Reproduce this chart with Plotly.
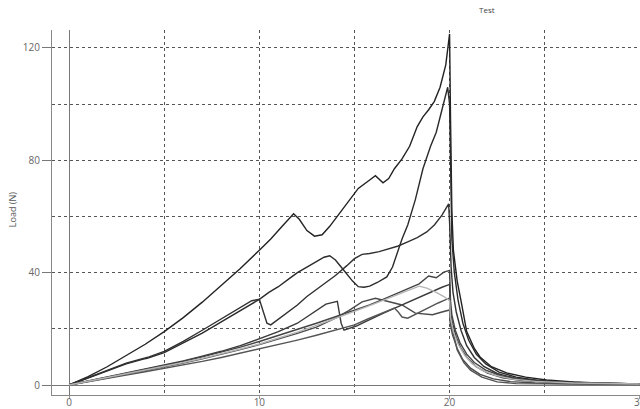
import plotly.graph_objects as go

# ---- data ----
a_x = [0, 1, 2, 2.8, 3.0, 4, 5, 6, 7, 8, 9, 10, 10.6, 11.2, 11.8, 12.1, 12.5, 12.9, 13.3, 13.7, 14.2, 14.8, 15.2, 15.8, 16.1, 16.5, 16.8, 17.1, 17.5, 17.9, 18.3, 18.6, 18.9, 19.2, 19.5, 19.8, 20.0,
       20.05, 20.12, 20.2, 20.4, 20.6, 20.9, 21.3, 21.6, 22.2, 23, 24, 25.1, 26.5, 27.8, 30]
a_y = [0, 3, 6.5, 9.8, 10.5, 14.5, 19, 24, 29.5, 35.5, 41.5, 48, 52, 56.5, 61, 59, 55, 53, 53.5, 56.5, 61, 66, 70, 73, 74.5, 72, 73.5, 77, 80.5, 85, 92, 95.5, 98, 101, 106, 114, 125,
       95, 62, 48, 37, 30, 19, 13, 10, 6.5, 4.3, 2.8, 1.8, 1.1, 0.7, 0.4]

b_x = [0, 1, 2, 3, 3.9, 4.1, 5, 6, 7, 8, 9, 10, 10.5, 11, 11.5, 12, 12.5, 13, 13.4, 13.7, 14.0, 14.3, 14.6, 14.9, 15.2, 15.5, 15.8, 16.2, 16.7, 17.0, 17.5, 17.8, 18.2, 18.6, 19.0, 19.3, 19.6, 19.9,
       20.0, 20.05, 20.12, 20.25, 20.45, 20.7, 21, 21.4, 21.9, 22.6, 23.5, 24.6, 26, 28, 30]
b_y = [0, 2.5, 5, 7.5, 9.2, 9.5, 11.5, 15, 18.5, 22.5, 26.5, 30.5, 33, 35, 37.5, 40, 42, 44, 45.5, 46, 44.5, 42, 39.5, 37, 35, 34.8, 35.2, 36.5, 38.5, 42, 52, 57, 66, 77, 85, 90, 98, 106,
       100, 75, 52, 40, 30, 22, 16, 11, 7.5, 4.6, 2.8, 1.7, 1, 0.6, 0.35]

c_x = [0, 1, 2, 3, 3.9, 4.2, 5, 6, 7, 8, 9, 9.6, 10.0, 10.2, 10.4, 10.6, 11, 11.5, 12, 12.5, 13, 13.5, 14, 14.6, 15, 15.4, 15.8, 16.3, 16.8, 17.3, 17.8, 18.3, 18.8, 19.2, 19.6, 19.95,
       20.0, 20.08, 20.18, 20.35, 20.6, 20.9, 21.3, 21.8, 22.5, 23.4, 24.5, 26, 28, 30]
c_y = [0, 2.6, 5.2, 7.8, 9.5, 10, 12, 15.5, 19.5, 23.5, 27.5, 30, 30.5, 26, 22, 21.4, 23.5, 26, 28.5, 31.5, 34, 36.5, 39, 42.5, 45, 46.5, 46.8, 47.5, 48.5, 49.5, 51, 52.5, 54.5, 57, 60.5, 64.5,
       58, 42, 33, 26, 19.5, 14, 9.8, 6.6, 4.1, 2.5, 1.5, 0.9, 0.5, 0.3]

d_x = [0, 1, 2, 3, 4, 5, 6, 7, 8, 9, 10, 11, 12, 13, 13.5, 14.1, 14.3, 14.45, 14.7, 15.1, 15.5, 16, 16.5, 17, 17.5, 18, 18.6, 19.2, 19.6, 20.0,
       20.05, 20.15, 20.35, 20.6, 20.95, 21.4, 22, 22.8, 23.8, 25.2, 27, 30]
d_y = [0, 1.4, 2.8, 4.2, 5.6, 7, 8.6, 10.3, 12, 14, 16.5, 19, 22, 26.5, 28.8, 29.8, 22, 19.5, 20, 21, 22.3, 24, 25.5, 27, 28.5, 30, 32, 33.8, 34.8, 35.8,
       26, 22, 17, 13, 9.5, 6.5, 4.2, 2.6, 1.6, 1.0, 0.6, 0.3]

e_x = [0, 1, 2, 3, 4, 5, 6, 7, 8, 9, 10, 11, 12, 13, 14, 15, 15.8, 16.5, 17.2, 17.8, 18.4, 18.9, 19.3, 19.7, 20.0,
       20.05, 20.12, 20.3, 20.55, 20.9, 21.3, 21.9, 22.7, 23.8, 25.3, 27.5, 30]
e_y = [0, 1.3, 2.7, 4.1, 5.5, 6.9, 8.4, 10, 11.7, 13.5, 15.5, 17.6, 19.8, 22, 24.3, 26.5, 28.5, 30.5, 32.5, 34.5, 36, 38.8, 38.2, 40.2, 40.8,
       30, 25, 19.5, 15, 11, 8, 5.3, 3.3, 2, 1.2, 0.7, 0.4]

f_x = [0, 1, 2, 3, 4, 5, 6, 7, 8, 9, 10, 11, 12, 13, 14, 14.7, 15.4, 16.1, 16.8, 17.5, 18.2, 18.6, 19.1, 19.6, 20.0,
       20.03, 20.15, 20.4, 20.7, 21.1, 21.6, 22.3, 23.2, 24.5, 26.5, 30]
f_y = [0, 1.2, 2.5, 3.8, 5.1, 6.4, 7.8, 9.3, 10.9, 12.6, 14.4, 16.3, 18.4, 20.6, 23.8, 26.5, 29.6, 30.9, 29.8, 28.5, 25.6, 25.4, 25, 26, 26.7,
       22, 18, 13, 9, 6, 3.8, 2.2, 1.2, 0.7, 0.4, 0.25]

g_x = [0, 1, 2, 3, 4, 5, 6, 7, 8, 9, 10, 11, 12, 13, 14, 15, 15.7, 16.4, 17.1, 17.3, 17.5, 17.8, 18.3, 18.8, 19.4, 20.0,
       20.03, 20.12, 20.4, 20.75, 21.1, 21.7, 22.5, 23.5, 26, 30]
g_y = [0, 1.1, 2.3, 3.5, 4.7, 5.9, 7.1, 8.4, 9.8, 11.3, 12.8, 14.4, 16, 17.7, 19.5, 21.4, 23.5, 25.5, 27.4, 26, 24.2, 23.8, 25.5, 27.4, 29.2, 31,
       24, 20.6, 12.5, 8, 5.3, 2.8, 1.1, 0.5, 0.3, 0.2]

h_x = [0, 1, 2, 3, 4, 5, 6, 7, 8, 9, 10, 11, 12, 13, 14, 15, 16, 17, 17.8, 18.4, 18.8, 19.3, 19.7, 20.0,
       20.05, 20.2, 20.45, 20.8, 21.2, 21.7, 22.4, 23.3, 24.5, 26.5, 30]
h_y = [0, 1.3, 2.6, 3.9, 5.2, 6.6, 8, 9.5, 11.1, 12.8, 14.6, 16.6, 18.8, 21.2, 23.6, 26.2, 28.8, 31.5, 33.6, 35.2, 34.5, 33, 31.5, 30,
       24, 19, 14.5, 10.5, 7.5, 5.2, 3.4, 2.1, 1.3, 0.7, 0.35]

series = [
    (a_x, a_y, "#222222"),
    (b_x, b_y, "#2a2a2a"),
    (c_x, c_y, "#303030"),
    (d_x, d_y, "#3a3a3a"),
    (e_x, e_y, "#444444"),
    (f_x, f_y, "#4a4a4a"),
    (g_x, g_y, "#555555"),
    (h_x, h_y, "#b4b4b4"),
]

y_ticks = [0, 40, 80, 120]
x_ticks = [0, 10, 20, 30]

fig = go.Figure()
for xs, ys, col in series:
    fig.add_trace(go.Scatter(x=xs, y=ys, mode="lines",
                             line=dict(color=col, width=1.4),
                             showlegend=False, hoverinfo="skip"))

grid_col = "#555555"
fig.update_layout(
    width=640, height=409,
    margin=dict(l=52, r=0, t=30, b=14),
    paper_bgcolor="white", plot_bgcolor="white",
    font=dict(family="Open Sans", size=10, color="#666666"),
    xaxis=dict(
        range=[-0.9, 30.01], tickvals=x_ticks, ticktext=[str(v) for v in x_ticks],
        showgrid=True, gridcolor=grid_col, griddash="dot", gridwidth=1,
        minor=dict(dtick=5, tick0=0, showgrid=True, gridcolor=grid_col, griddash="dot", ticklen=0),
        zeroline=True, zerolinecolor="#777777", zerolinewidth=1,
        showline=True, linecolor="#888888", linewidth=1,
        ticks="outside", ticklen=3, tickcolor="#999999",
        ticklabelstandoff=-5, ticklabeloverflow="allow",
        automargin=False, fixedrange=True,
    ),
    yaxis=dict(
        range=[-3.56, 126.4], tickvals=y_ticks, ticktext=[str(v) for v in y_ticks],
        showgrid=True, gridcolor=grid_col, griddash="dot", gridwidth=1,
        minor=dict(dtick=20, tick0=0, showgrid=True, gridcolor=grid_col, griddash="dot", ticklen=0),
        zeroline=True, zerolinecolor="#777777", zerolinewidth=1,
        showline=True, linecolor="#888888", linewidth=1,
        ticks="outside", ticklen=9, tickcolor="#777777",
        automargin=False, fixedrange=True,
    ),
    annotations=[
        dict(text="Test", xref="paper", yref="paper", x=0.74, y=1.055,
             showarrow=False, font=dict(size=8, color="#444444"),
             xanchor="center", yanchor="middle"),
        dict(text="Load (N)", xref="paper", yref="paper", x=-0.066, y=0.507,
             showarrow=False, textangle=-90, font=dict(size=9, color="#555555"),
             xanchor="center", yanchor="middle"),
    ],
)

fig.write_html(
    "out.html",
    config={"displayModeBar": False},
    post_script="document.body.style.margin='0';document.body.style.overflow='hidden';",
)
